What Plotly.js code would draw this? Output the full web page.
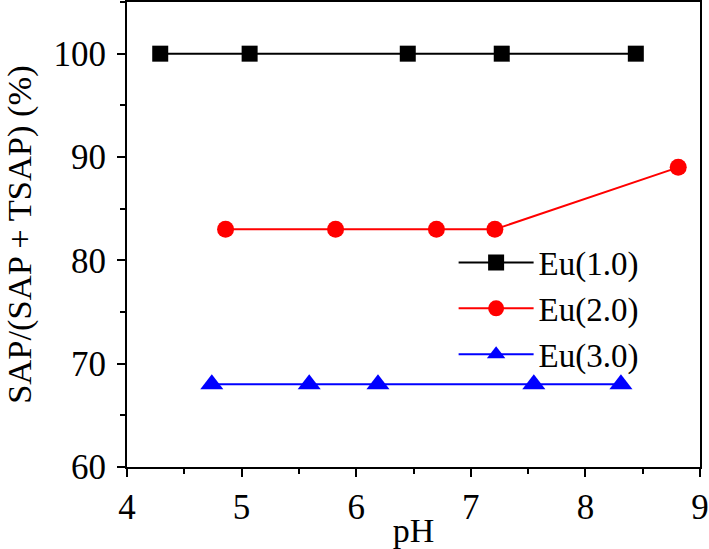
<!DOCTYPE html>
<html>
<head>
<meta charset="utf-8">
<script src="https://cdn.plot.ly/plotly-3.0.1.min.js"></script>
<style>html,body{margin:0;padding:0;background:#fff;}#chart{width:709px;height:549px;}</style>
</head>
<body>
<div id="chart"></div>
<script>
const seriesNames = ["Eu(1.0)", "Eu(2.0)", "Eu(3.0)"];
const eu1_pH = [4.29, 5.07, 6.45, 7.27, 8.44];
const eu1_val = [100, 100, 100, 100, 100];
const eu2_pH = [4.86, 5.82, 6.70, 7.21, 8.81];
const eu2_val = [83, 83, 83, 83, 89];
const eu3_pH = [4.74, 5.59, 6.19, 7.55, 8.31];
const eu3_val = [68, 68, 68, 68, 68];

const font = "Liberation Serif, Times New Roman, serif";

const traces = [
  {x: eu1_pH, y: eu1_val, name: seriesNames[0], mode: "lines+markers",
   line: {color: "#000000", width: 2}, marker: {symbol: "square", size: 16, color: "#000000"}},
  {x: eu2_pH, y: eu2_val, name: seriesNames[1], mode: "lines+markers",
   line: {color: "#ff0000", width: 2}, marker: {symbol: "circle", size: 17, color: "#ff0000"}},
  {x: eu3_pH, y: eu3_val, name: seriesNames[2], mode: "lines+markers",
   line: {color: "#0000ff", width: 2}, marker: {symbol: "triangle-up", size: 20, color: "#0000ff"}}
];

const layout = {
  width: 709, height: 549,
  margin: {l: 127, r: 9, t: 2, b: 82},
  paper_bgcolor: "#ffffff", plot_bgcolor: "#ffffff",
  font: {family: font, size: 35, color: "#000000"},
  showlegend: true,
  legend: {x: 0.57, y: 0.5, xanchor: "left", yanchor: "top", bgcolor: "rgba(0,0,0,0)",
           font: {family: font, size: 33, color: "#000"}, itemwidth: 75, tracegroupgap: 0},
  xaxis: {
    range: [4, 9], dtick: 1, tick0: 4,
    showline: true, linecolor: "#000", linewidth: 2, mirror: true,
    ticks: "outside", ticklen: 8, tickwidth: 2, tickcolor: "#000",
    minor: {dtick: 0.5, ticks: "outside", ticklen: 5, tickwidth: 2, tickcolor: "#000", showgrid: false},
    showgrid: false, zeroline: false,
    tickfont: {family: font, size: 35, color: "#000"},
    title: {text: "pH", font: {family: font, size: 34, color: "#000"}, standoff: 0}
  },
  yaxis: {
    range: [60, 105], dtick: 10, tick0: 60,
    showline: true, linecolor: "#000", linewidth: 2, mirror: true,
    ticks: "outside", ticklen: 8, tickwidth: 2, tickcolor: "#000",
    minor: {dtick: 5, ticks: "outside", ticklen: 5, tickwidth: 2, tickcolor: "#000", showgrid: false},
    showgrid: false, zeroline: false,
    ticklabelstandoff: 4,
    tickfont: {family: font, size: 35, color: "#000"},
    title: {text: "SAP/(SAP + TSAP) (%)", font: {family: font, size: 34.5, color: "#000"}, standoff: 12}
  }
};

Plotly.newPlot("chart", traces, layout, {displayModeBar: false, staticPlot: true});
</script>
</body>
</html>
